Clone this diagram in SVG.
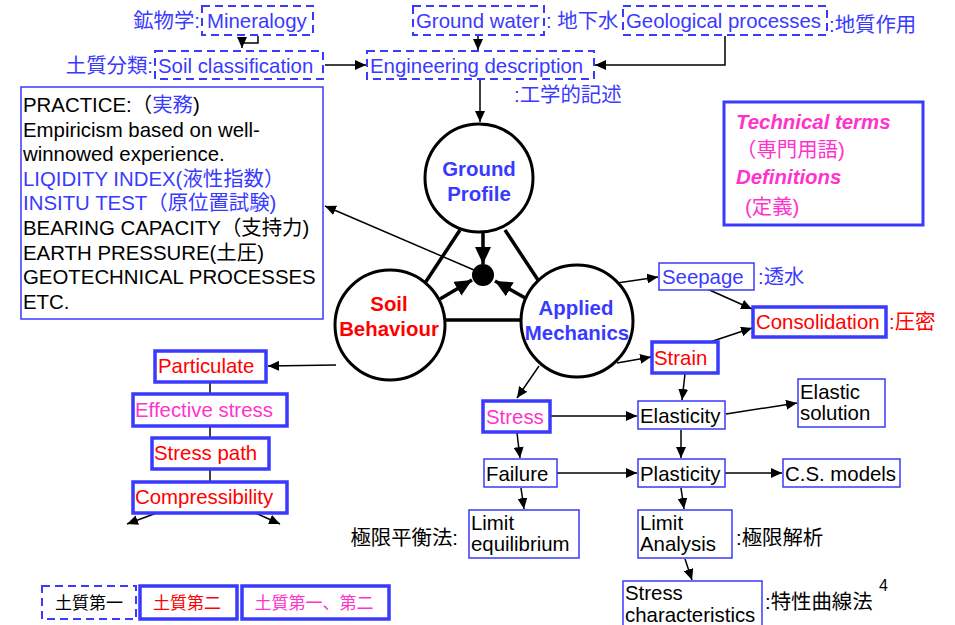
<svg xmlns="http://www.w3.org/2000/svg" width="955" height="625" viewBox="0 0 955 625">
<style>
text{font-family:"Liberation Sans","Noto Sans CJK JP",sans-serif;font-size:20.4px}
.b{fill:#3a3aff}.r{fill:#ff0000}.m{fill:#ff33cc}.k{fill:#000}
.bold{font-weight:bold}
.leg{font-size:17px}
.dash{fill:#fff;stroke:#3a3aff;stroke-width:2;stroke-dasharray:8,5}
.thin{fill:#fff;stroke:#3a3aff;stroke-width:1.5}
.thick{fill:#fff;stroke:#3a3aff;stroke-width:3.5}
.circ{fill:#fff;stroke:#000;stroke-width:3}
.c{stroke:#000;stroke-width:1.5;fill:none}
.ct{stroke:#000;stroke-width:3.5;fill:none}
.mid{text-anchor:middle}
</style>
<defs>
<marker id="a" markerUnits="userSpaceOnUse" markerWidth="12" markerHeight="10" refX="11" refY="5" orient="auto"><path d="M0,0 L11,5 L0,10 z" fill="#000"/></marker>
<marker id="A" markerUnits="userSpaceOnUse" markerWidth="18" markerHeight="16" refX="17" refY="8" orient="auto"><path d="M0,0 L17,8 L0,16 z" fill="#000"/></marker>
</defs>
<g id="connectors">
<polyline class="c" points="258,36 258,43 242,43 242,48" marker-end="url(#a)"/>
<line class="c" x1="478" y1="36" x2="478" y2="50" marker-end="url(#a)"/>
<polyline class="c" points="725,36 725,65 595,65" marker-end="url(#a)"/>
<line class="c" x1="325" y1="65" x2="366" y2="65" marker-end="url(#a)"/>
<line class="c" x1="480" y1="80" x2="480" y2="122" marker-end="url(#a)"/>
<line class="ct" x1="460" y1="230" x2="425" y2="283"/>
<line class="ct" x1="505" y1="230" x2="540" y2="283"/>
<line class="ct" x1="445" y1="320" x2="522" y2="320"/>
<line class="ct" x1="483" y1="232" x2="483" y2="264" marker-end="url(#A)"/>
<line class="ct" x1="440" y1="299" x2="472" y2="280" marker-end="url(#A)"/>
<line class="ct" x1="527" y1="299" x2="495" y2="281" marker-end="url(#A)"/>
<line class="c" x1="474" y1="270" x2="325" y2="206" marker-end="url(#a)"/>
<line class="c" x1="617" y1="283" x2="658" y2="277" marker-end="url(#a)"/>
<line class="c" x1="617" y1="363" x2="651" y2="357" marker-end="url(#a)"/>
<line class="c" x1="539" y1="366" x2="517" y2="398" marker-end="url(#a)"/>
<line class="c" x1="705" y1="288" x2="752" y2="309" marker-end="url(#a)"/>
<line class="c" x1="710" y1="342" x2="752" y2="328" marker-end="url(#a)"/>
<line class="c" x1="685" y1="374" x2="682" y2="400" marker-end="url(#a)"/>
<line class="c" x1="726" y1="414" x2="797" y2="403" marker-end="url(#a)"/>
<line class="c" x1="551" y1="416" x2="637" y2="416" marker-end="url(#a)"/>
<line class="c" x1="517" y1="433" x2="520" y2="458" marker-end="url(#a)"/>
<line class="c" x1="681" y1="430" x2="681" y2="458" marker-end="url(#a)"/>
<line class="c" x1="557" y1="473" x2="637" y2="473" marker-end="url(#a)"/>
<line class="c" x1="725" y1="473" x2="782" y2="473" marker-end="url(#a)"/>
<line class="c" x1="521" y1="488" x2="524" y2="509" marker-end="url(#a)"/>
<line class="c" x1="681" y1="488" x2="684" y2="509" marker-end="url(#a)"/>
<line class="c" x1="685" y1="559" x2="692" y2="580" marker-end="url(#a)"/>
<line class="c" x1="336" y1="365" x2="268" y2="366" marker-end="url(#a)"/>
<line class="c" x1="210" y1="383" x2="210" y2="394"/>
<line class="c" x1="210" y1="426" x2="210" y2="438"/>
<line class="c" x1="210" y1="469" x2="210" y2="482"/>
<line class="c" x1="162" y1="511" x2="127" y2="524" marker-end="url(#a)"/>
<line class="c" x1="251" y1="511" x2="280" y2="524" marker-end="url(#a)"/>
</g>
<g id="mineralogy"><rect class="dash" x="202" y="6" width="111" height="29"/><text x="207" y="28" class="b">Mineralogy</text><text x="200" y="28" class="b" text-anchor="end">鉱物学:</text></g>
<g id="soil-classification"><rect class="dash" x="155" y="51" width="168" height="28"/><text x="158" y="73" class="b">Soil classification</text><text x="153" y="73" class="b" text-anchor="end">土質分類:</text></g>
<g id="ground-water"><rect class="dash" x="413" y="6" width="131" height="29"/><text x="416" y="28" class="b">Ground water</text><text x="546" y="28" class="b">: 地下水</text></g>
<g id="geological-processes"><rect class="dash" x="623" y="6" width="204" height="29"/><text x="626" y="28" class="b">Geological processes</text><text x="829" y="32" class="b">:地質作用</text></g>
<g id="engineering-description"><rect class="dash" x="367" y="51" width="227" height="28"/><text x="370" y="73" class="b">Engineering description</text><text x="514" y="102" class="b">:工学的記述</text></g>
<g id="practice"><rect class="thin" x="21" y="87" width="302" height="232"/>
<text x="23" y="112" class="k">PRACTICE:（<tspan class="b">実務</tspan>)</text>
<text x="23" y="137" class="k">Empiricism based on well-</text>
<text x="23" y="161" class="k">winnowed experience.</text>
<text x="23" y="186" class="b">LIQIDITY INDEX(液性指数）</text>
<text x="23" y="210" class="b">INSITU TEST（原位置試験)</text>
<text x="23" y="235" class="k">BEARING CAPACITY（支持力)</text>
<text x="23" y="260" class="k">EARTH PRESSURE(土圧)</text>
<text x="23" y="284" class="k">GEOTECHNICAL PROCESSES</text>
<text x="23" y="309" class="k">ETC.</text></g>
<g id="technical-terms"><rect x="724" y="102" width="199" height="123" fill="#fff" stroke="#3a3aff" stroke-width="3"/>
<text x="736" y="129" class="m bold" font-style="italic">Technical terms</text>
<text x="736" y="157" class="m">（専門用語)</text>
<text x="736" y="184" class="m bold" font-style="italic">Definitions</text>
<text x="745" y="214" class="m">(定義)</text></g>
<g id="ground-profile"><circle class="circ" cx="479" cy="178" r="54"/><text x="479" y="176" class="b bold mid">Ground</text><text x="479" y="201" class="b bold mid">Profile</text></g>
<g id="soil-behaviour"><circle class="circ" cx="390" cy="325" r="55"/><text x="389" y="311" class="r bold mid">Soil</text><text x="389" y="336" class="r bold mid">Behaviour</text></g>
<g id="applied-mechanics"><circle class="circ" cx="577" cy="321" r="56"/><text x="576" y="315" class="b bold mid">Applied</text><text x="577" y="340" class="b bold mid">Mechanics</text></g>
<g id="centre"><circle cx="483" cy="275" r="11" fill="#000"/></g>
<g id="seepage"><rect class="thin" x="659" y="263" width="95" height="27"/><text x="662" y="284" class="b">Seepage</text><text x="758" y="284" class="b">:透水</text></g>
<g id="consolidation"><rect class="thick" x="753" y="307" width="133" height="30"/><text x="756" y="329" class="r">Consolidation</text><text x="889" y="329" class="r">:圧密</text></g>
<g id="strain"><rect class="thick" x="652" y="342" width="66" height="31"/><text x="654" y="365" class="r">Strain</text></g>
<g id="elastic-solution"><rect class="thin" x="798" y="379" width="87" height="48"/><text x="800" y="399" class="k">Elastic</text><text x="800" y="420" class="k">solution</text></g>
<g id="stress"><rect class="thick" x="483" y="401" width="67" height="31"/><text x="486" y="424" class="m">Stress</text></g>
<g id="elasticity"><rect class="thin" x="638" y="401" width="87" height="28"/><text x="640" y="423" class="k">Elasticity</text></g>
<g id="failure"><rect class="thin" x="484" y="459" width="73" height="28"/><text x="486" y="481" class="k">Failure</text></g>
<g id="plasticity"><rect class="thin" x="638" y="459" width="87" height="28"/><text x="640" y="481" class="k">Plasticity</text></g>
<g id="cs-models"><rect class="thin" x="783" y="459" width="117" height="28"/><text x="785" y="481" class="k">C.S. models</text></g>
<g id="limit-equilibrium"><rect class="thin" x="469" y="510" width="110" height="48"/><text x="471" y="530" class="k">Limit</text><text x="471" y="551" class="k">equilibrium</text><text x="458" y="545" class="k" text-anchor="end">極限平衡法:</text></g>
<g id="limit-analysis"><rect class="thin" x="638" y="510" width="94" height="48"/><text x="640" y="530" class="k">Limit</text><text x="640" y="551" class="k">Analysis</text><text x="736" y="545" class="k">:極限解析</text></g>
<g id="stress-characteristics"><rect class="thin" x="623" y="581" width="139" height="50"/><text x="625" y="600" class="k">Stress</text><text x="625" y="622" class="k">characteristics</text><text x="765" y="609" class="k">:特性曲線法</text></g>
<text x="879" y="591" class="k" style="font-size:16px">4</text>
<g id="particulate"><rect class="thick" x="155" y="351" width="111" height="31"/><text x="158" y="373" class="r">Particulate</text></g>
<g id="effective-stress"><rect class="thick" x="133" y="394" width="154" height="32"/><text x="135" y="417" class="m">Effective stress</text></g>
<g id="stress-path"><rect class="thick" x="152" y="438" width="117" height="31"/><text x="154" y="460" class="r">Stress path</text></g>
<g id="compressibility"><rect class="thick" x="133" y="482" width="154" height="31"/><text x="135" y="504" class="r">Compressibility</text></g>
<g id="legend-1"><rect class="dash" x="42" y="586" width="94" height="33"/><text x="89" y="609" class="k mid leg">土質第一</text></g>
<g id="legend-2"><rect class="thick" x="140" y="586" width="97" height="33"/><text x="187" y="609" class="r mid leg">土質第二</text></g>
<g id="legend-3"><rect class="thick" x="242" y="586" width="147" height="33"/><text x="314" y="609" class="m mid leg">土質第一、第二</text></g>
</svg>
